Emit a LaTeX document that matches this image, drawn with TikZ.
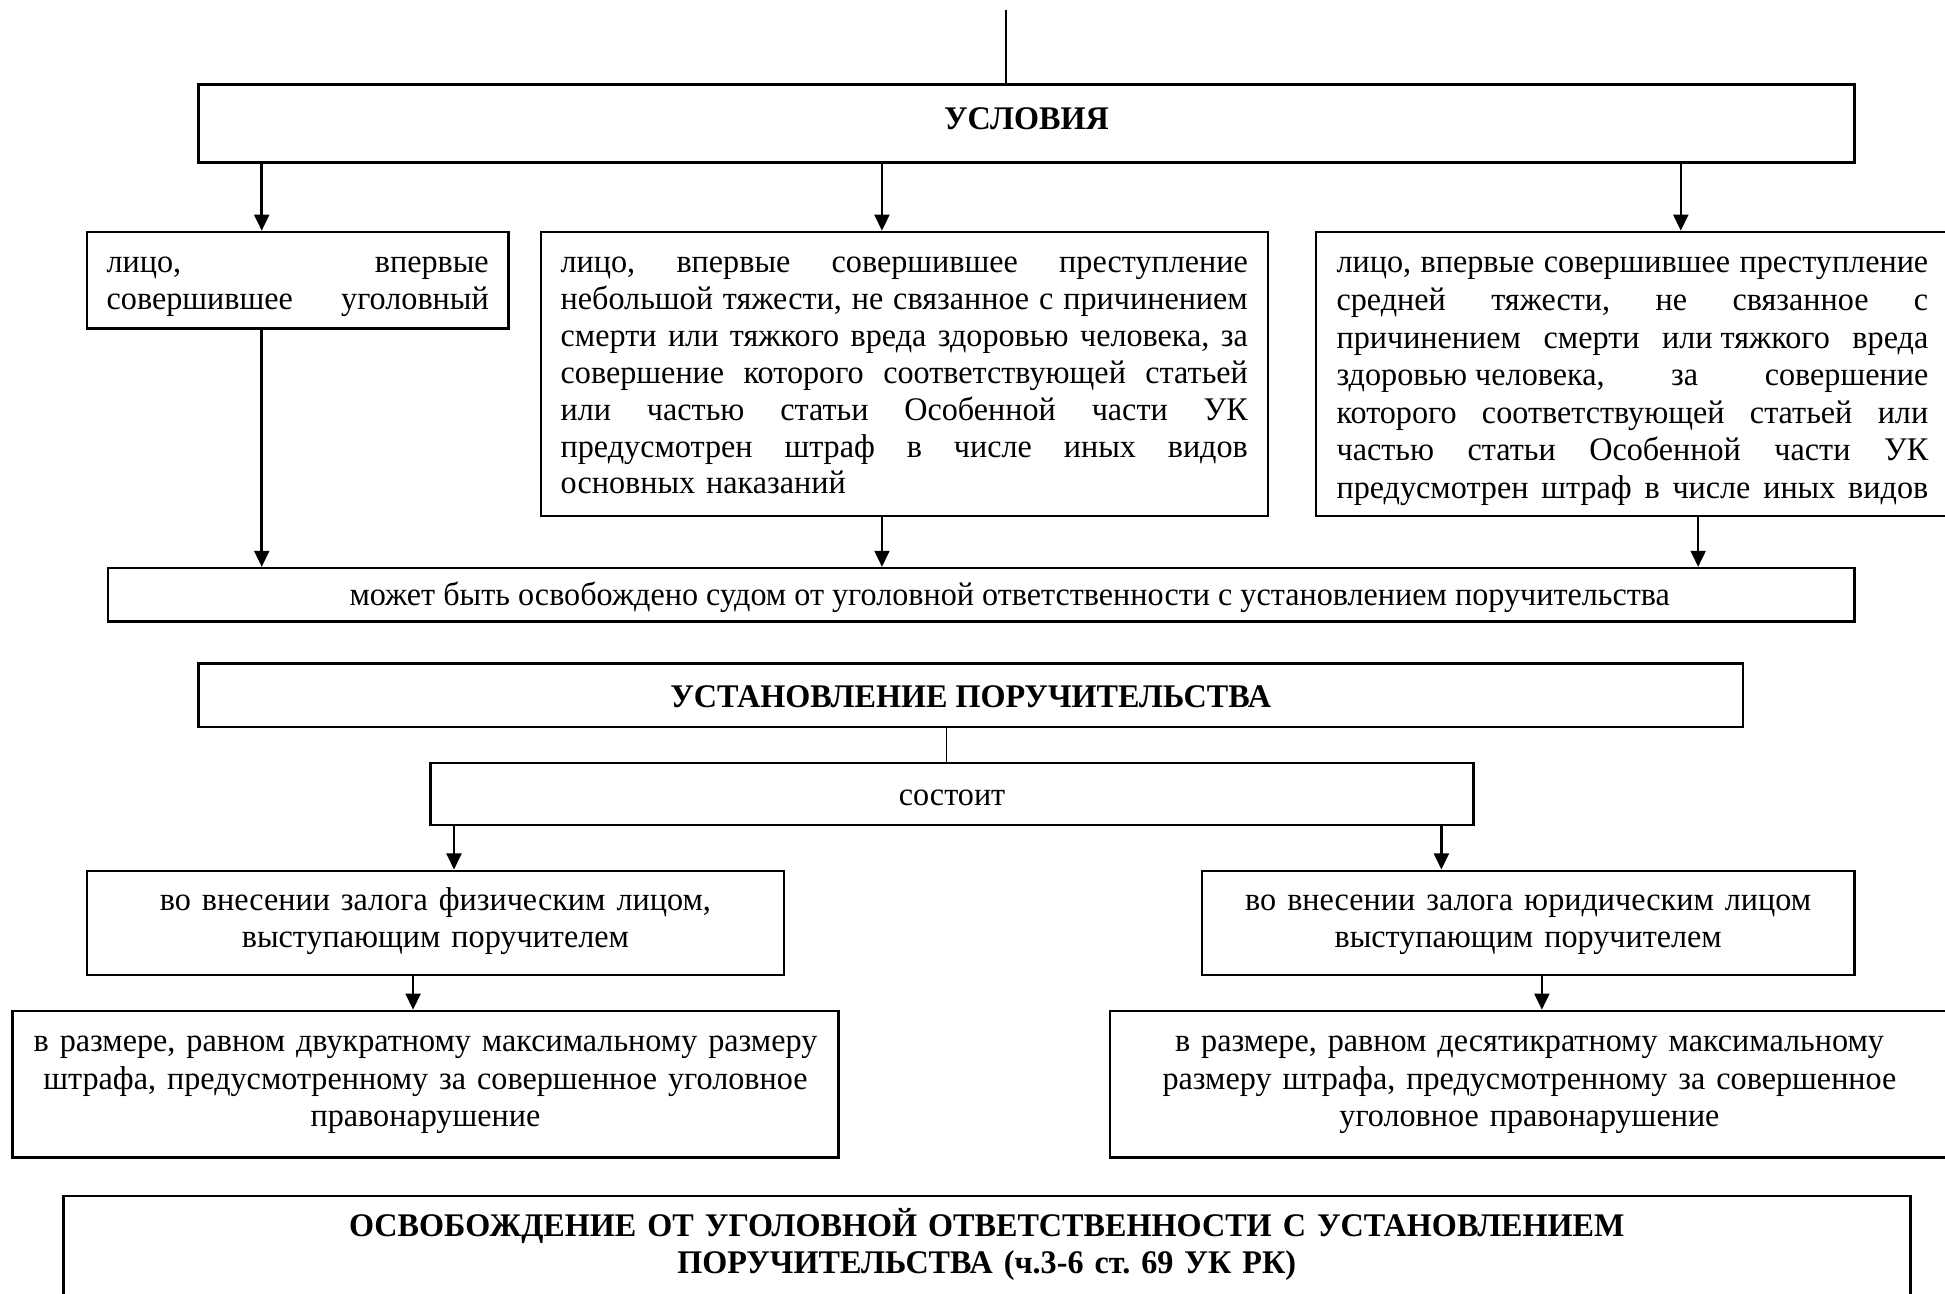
\documentclass[tikz,border=0pt]{standalone}
\usepackage{fontspec}
\setmainfont[FakeStretch=0.975]{Liberation Serif}
\usetikzlibrary{arrows.meta}
\frenchspacing
\newcommand\jl[2]{\makebox[#1][s]{\spaceskip=0pt\xspaceskip=0pt #2}}
\begin{document}
\begin{tikzpicture}[x=0.5pt,y=-0.5pt,
  box/.style={draw, line width=1pt, inner sep=0pt, font=\fontsize{13.3}{14.85}\selectfont\frenchspacing},
  ttl/.style={box, font=\fontsize{13.3}{14.85}\selectfont\bfseries\frenchspacing},
  arr/.style={line width=1pt, -{Triangle[length=6.5pt,width=6pt]}},
  ln/.style={line width=0.5pt}]
\useasboundingbox (0,0) rectangle (1568,1043);
\clip (0,0) rectangle (1568,1043);

\node[ttl, minimum width=667.5pt, minimum height=31.5pt, text height=18pt, text depth=13.5pt] (usl) at (827.5,99.5) {УСЛОВИЯ};

\node[box, minimum width=170pt, minimum height=39pt, text width=154pt, align=left, text height=16.5pt, text depth=22.5pt] (b1) at (240,226)
 {\jl{154pt}{лицо,\hfill впервые}\\\jl{154pt}{совершившее\hfill уголовный}};

\node[box, minimum width=293pt, minimum height=114.5pt, text width=277pt, align=left, text height=16.5pt, text depth=98pt] (b2) at (729,301.5)
 {\jl{277pt}{лицо, впервые совершившее преступление}\\
  \jl{277pt}{небольшой тяжести, не связанное с причинением}\\
  \jl{277pt}{смерти или тяжкого вреда здоровью человека, за}\\
  \jl{277pt}{совершение которого соответствующей статьей}\\
  \jl{277pt}{или частью статьи Особенной части УК}\\
  \jl{277pt}{предусмотрен штраф в числе иных видов}\\
  основных наказаний};

\node[box, minimum width=255pt, minimum height=114.5pt, text width=238.5pt, align=left, text height=16.5pt, text depth=98pt,
  font=\fontsize{13.3}{15.15}\selectfont] (b3) at (1316,301.5)
 {\jl{238.5pt}{лицо, впервые совершившее преступление}\\
  \jl{238.5pt}{средней тяжести, не связанное с}\\
  \jl{238.5pt}{причинением\hfill смерти\hfill или тяжкого\hfill вреда}\\
  \jl{238.5pt}{здоровью человека,\hfill за\hfill совершение}\\
  \jl{238.5pt}{которого соответствующей статьей или}\\
  \jl{238.5pt}{частью статьи Особенной части УК}\\
  \jl{238.5pt}{предусмотрен штраф в числе иных видов}};

\node[box, minimum width=704pt, minimum height=21.5pt, text height=15pt, text depth=6.5pt] (free) at (791,479.5)
 {\hspace*{23pt}может быть освобождено судом от уголовной ответственности с установлением поручительства};

\node[ttl, minimum width=622.5pt, minimum height=25.5pt, text height=17.5pt, text depth=8pt] (ust) at (782.5,560.5) {УСТАНОВЛЕНИЕ ПОРУЧИТЕЛЬСТВА};

\node[box, minimum width=420.5pt, minimum height=25pt, text height=17pt, text depth=8pt] (sost) at (767.5,640) {состоит};

\node[box, minimum width=281pt, minimum height=42pt, text width=265pt, align=center, text height=16pt, text depth=26pt,
  font=\fontsize{13.3}{15}\selectfont] (fiz) at (351,744)
 {во внесении залога физическим лицом,\\выступающим поручителем};
\node[box, minimum width=263pt, minimum height=42pt, text width=247pt, align=center, text height=16pt, text depth=26pt,
  font=\fontsize{13.3}{15}\selectfont] (yur) at (1232,744)
 {во внесении залога юридическим лицом\\выступающим поручителем};

\node[box, minimum width=333pt, minimum height=59pt, text width=325pt, align=center, text height=16.5pt, text depth=42.5pt,
  font=\fontsize{13.3}{15}\selectfont] (dvu) at (343,874)
 {в размере, равном двукратному максимальному размеру\\штрафа, предусмотренному за совершенное уголовное\\правонарушение};
\node[box, minimum width=338pt, minimum height=59pt, text width=320pt, align=center, text height=16.5pt, text depth=42.5pt,
  font=\fontsize{13.3}{15}\selectfont] (des) at (1233,874)
 {в размере, равном десятикратному максимальному\\размеру штрафа, предусмотренному за совершенное\\уголовное правонарушение};

\node[ttl, anchor=north, minimum width=744.5pt, minimum height=45pt, text width=700pt, align=center, text height=16.5pt, text depth=28.5pt] (osv) at (795.5,963)
 {ОСВОБОЖДЕНИЕ ОТ УГОЛОВНОЙ ОТВЕТСТВЕННОСТИ С УСТАНОВЛЕНИЕМ\\ПОРУЧИТЕЛЬСТВА (ч.3-6 ст. 69 УК РК)};

\coordinate (top) at (811,8);
\coordinate (x211) at (211,0);
\coordinate (x711) at (711,0);
\coordinate (x1355) at (1355,0);
\coordinate (x1369) at (1369,0);
\coordinate (x763) at (763,0);
\coordinate (x366) at (366,0);
\coordinate (x1162) at (1162,0);
\coordinate (x333) at (333,0);
\coordinate (x1243) at (1243,0);

\draw[ln] (top) -- (top |- usl.north);
\draw[arr] (x211 |- usl.south) -- (x211 |- b1.north);
\draw[arr] (x711 |- usl.south) -- (x711 |- b2.north);
\draw[arr] (x1355 |- usl.south) -- (x1355 |- b3.north);
\draw[arr] (x211 |- b1.south) -- (x211 |- free.north);
\draw[arr] (x711 |- b2.south) -- (x711 |- free.north);
\draw[arr] (x1369 |- b3.south) -- (x1369 |- free.north);
\draw[ln] (x763 |- ust.south) -- (x763 |- sost.north);
\draw[arr] (x366 |- sost.south) -- (x366 |- fiz.north);
\draw[arr] (x1162 |- sost.south) -- (x1162 |- yur.north);
\draw[arr] (x333 |- fiz.south) -- (x333 |- dvu.north);
\draw[arr] (x1243 |- yur.south) -- (x1243 |- des.north);
\end{tikzpicture}
\end{document}
